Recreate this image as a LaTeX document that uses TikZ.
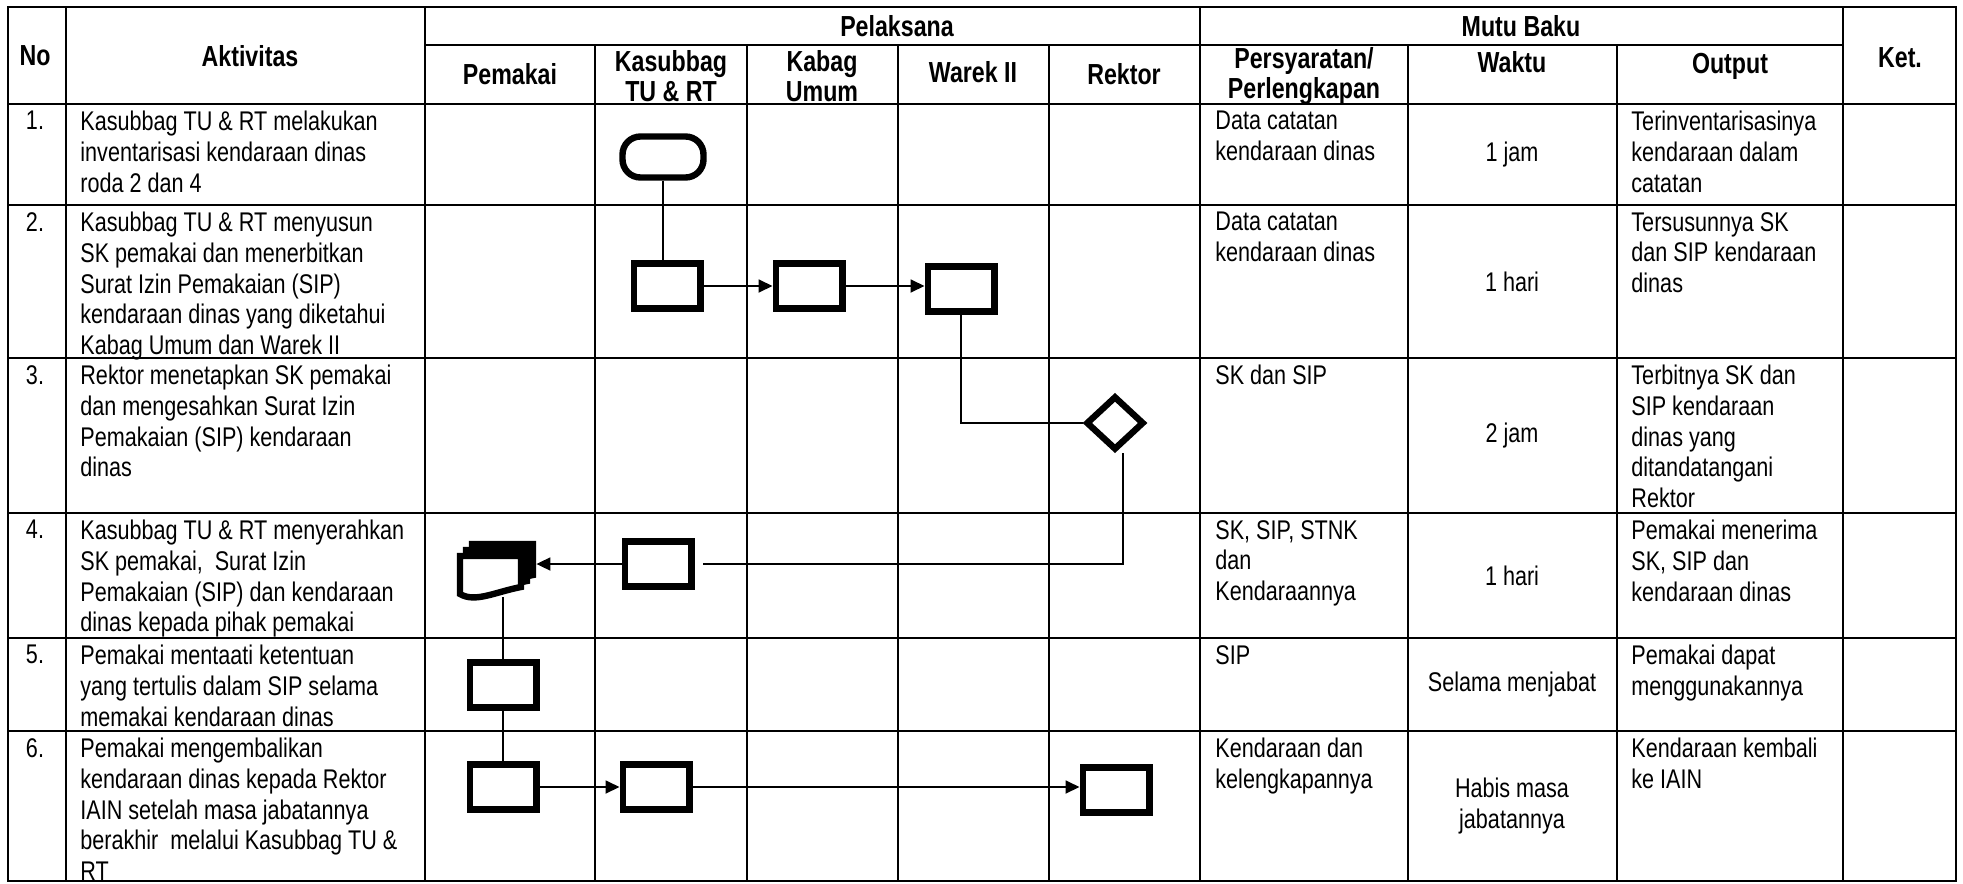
\documentclass[tikz,border=0pt]{standalone}
\usepackage{fontspec}
\setmainfont{Liberation Sans}[FakeStretch=0.8]
\usetikzlibrary{arrows.meta,positioning,shapes.geometric}
\tikzset{
  gridline/.style={line width=1.1pt,line cap=rect},
  cell/.style={anchor=north west,inner sep=0pt,align=left,font=\fontsize{13.5}{15.3}\selectfont},
  numcell/.style={anchor=north,inner sep=0pt,font=\fontsize{13.5}{15.3}\selectfont},
  timecell/.style={inner sep=0pt,align=center,font=\fontsize{13.5}{15.3}\selectfont},
  headcell/.style={inner sep=0pt,align=center,font=\bfseries\fontsize{14.5}{15}\selectfont},
  procbox/.style={draw,line width=3.2pt,fill=white,minimum width=33.3pt,minimum height=22.5pt,inner sep=0pt},
  startbox/.style={draw,line width=3.2pt,rounded corners=9pt,minimum width=40.5pt,minimum height=20.5pt,inner sep=0pt},
  decbox/.style={draw,diamond,line width=3.2pt,minimum width=29pt,minimum height=27pt,inner sep=0pt},
  docspot/.style={minimum width=39.5pt,minimum height=28pt,inner sep=0pt},
  docline/.style={draw,fill=white,line width=3.2pt},
  flowline/.style={line width=0.9pt},
  flowarrow/.style={line width=0.9pt,-{Triangle[length=7pt,width=6.5pt]}}
}
\begin{document}
\begin{tikzpicture}[x=0.5pt,y=-0.5pt]
\useasboundingbox (0,0) rectangle (1963,883);
% table grid
\foreach \x in {8,66,425,1200,1843,1956} \draw[gridline] (\x,7) -- (\x,881);
\foreach \x in {595,747,898,1049,1408,1617} \draw[gridline] (\x,45) -- (\x,881);
\draw[gridline] (425,45) -- (1843,45);
\foreach \y in {7,104,205,358,513,638,731,881} \draw[gridline] (8,\y) -- (1956,\y);
% header
\node[headcell] (hno) at (35,56) {No};
\node[headcell] (hakt) at (250,56) {Aktivitas};
\node[headcell] (hpel) at (897,26) {Pelaksana};
\node[headcell] (hmutu) at (1521,26) {Mutu Baku};
\node[headcell] (hket) at (1900,58) {Ket.};
\node[headcell] (hpem) at (510,74) {Pemakai};
\node[headcell] (hkas) at (671,76) {Kasubbag\\TU \& RT};
\node[headcell] (hkab) at (822,76) {Kabag\\Umum};
\node[headcell] (hwar) at (973,72) {Warek II};
\node[headcell] (hrek) at (1124,74) {Rektor};
\node[headcell] (hsyr) at (1304,76) {Persyaratan/\\Perlengkapan};
\node[headcell] (hwkt) at (1512,62) {Waktu};
\node[headcell] (hout) at (1730,66) {Output};
% row numbers
\foreach \n/\y in {1/111,2/212,3/365,4/520,5/645,6/738}
  \node[numcell] (num\n) at (35,\y) {\n.};
% activities
\node[cell] (act1) at (80,111) {Kasubbag TU \& RT melakukan\\inventarisasi kendaraan dinas\\roda 2 dan 4};
\node[cell] (act2) at (80,212) {Kasubbag TU \& RT menyusun\\SK pemakai dan menerbitkan\\Surat Izin Pemakaian (SIP)\\kendaraan dinas yang diketahui\\Kabag Umum dan Warek II};
\node[cell] (act3) at (80,365) {Rektor menetapkan SK pemakai\\dan mengesahkan Surat Izin\\Pemakaian (SIP) kendaraan\\dinas};
\node[cell] (act4) at (80,520) {Kasubbag TU \& RT menyerahkan\\SK pemakai,\ \ Surat Izin\\Pemakaian (SIP) dan kendaraan\\dinas kepada pihak pemakai};
\node[cell] (act5) at (80,645) {Pemakai mentaati ketentuan\\yang tertulis dalam SIP selama\\memakai kendaraan dinas};
\node[cell] (act6) at (80,738) {Pemakai mengembalikan\\kendaraan dinas kepada Rektor\\IAIN setelah masa jabatannya\\berakhir\ \ melalui Kasubbag TU \&\\RT};
% persyaratan
\node[cell] (req1) at (1215,111) {Data catatan\\kendaraan dinas};
\node[cell] (req2) at (1215,212) {Data catatan\\kendaraan dinas};
\node[cell] (req3) at (1215,365) {SK dan SIP};
\node[cell] (req4) at (1215,520) {SK, SIP, STNK\\dan\\Kendaraannya};
\node[cell] (req5) at (1215,645) {SIP};
\node[cell] (req6) at (1215,738) {Kendaraan dan\\kelengkapannya};
% waktu
\node[timecell] (time1) at (1512,154.5) {1 jam};
\node[timecell] (time2) at (1512,281.5) {1 hari};
\node[timecell] (time3) at (1512,435.5) {2 jam};
\node[timecell] (time4) at (1512,575.5) {1 hari};
\node[timecell] (time5) at (1512,684.5) {Selama menjabat};
\node[timecell] (time6) at (1512,806) {Habis masa\\jabatannya};
% output
\node[cell] (out1) at (1631,111) {Terinventarisasinya\\kendaraan dalam\\catatan};
\node[cell] (out2) at (1631,212) {Tersusunnya SK\\dan SIP kendaraan\\dinas};
\node[cell] (out3) at (1631,365) {Terbitnya SK dan\\SIP kendaraan\\dinas yang\\ditandatangani\\Rektor};
\node[cell] (out4) at (1631,520) {Pemakai menerima\\SK, SIP dan\\kendaraan dinas};
\node[cell] (out5) at (1631,645) {Pemakai dapat\\menggunakannya};
\node[cell] (out6) at (1631,738) {Kendaraan kembali\\ke IAIN};
% flow symbols
\node[startbox] (kas1) at (663,157) {};
\node[procbox] (kas2) at (667,286) {};
\node[procbox] (kab2) at (809,286) {};
\node[procbox] (war2) at (961,289) {};
\node[decbox] (rek3) at (1115,423) {};
\node[procbox] (kas4) at (658,564) {};
\node[docspot] (pem4) at (496.5,569) {};
\foreach \d in {12,6,0}
  \path[docline] ({460+\d},{556-\d}) -- ({521+\d},{556-\d}) -- ({521+\d},{587-\d})
    .. controls ({495+\d},{592-\d}) and ({475+\d},{603-\d}) .. ({460+\d},{594-\d}) -- cycle;
\node[procbox] (pem5) at (503,685) {};
\node[procbox] (pem6) at (503,787) {};
\node[procbox] (kas6) at (656,787) {};
\node[procbox] (rek6) at (1116,790) {};
% connectors
\draw[flowline] (kas1.south) -- (kas1.south |- kas2.north);
\draw[flowarrow] (kas2.east) -- (kab2.west);
\draw[flowarrow] (kab2.east) -- (kab2.east -| war2.west);
\draw[flowline] (war2.south) |- (rek3.west);
\draw[flowline] ([xshift=4pt]rek3.south) |- ([xshift=4pt]kas4.east);
\draw[flowarrow] (kas4.west) -- (kas4.west -| pem4.east);
\draw[flowline] (pem5.north |- pem4.south) -- (pem5.north);
\draw[flowline] (pem5.south) -- (pem6.north);
\draw[flowarrow] (pem6.east) -- (kas6.west);
\draw[flowarrow] (kas6.east) -- (kas6.east -| rek6.west);
\end{tikzpicture}
\end{document}
